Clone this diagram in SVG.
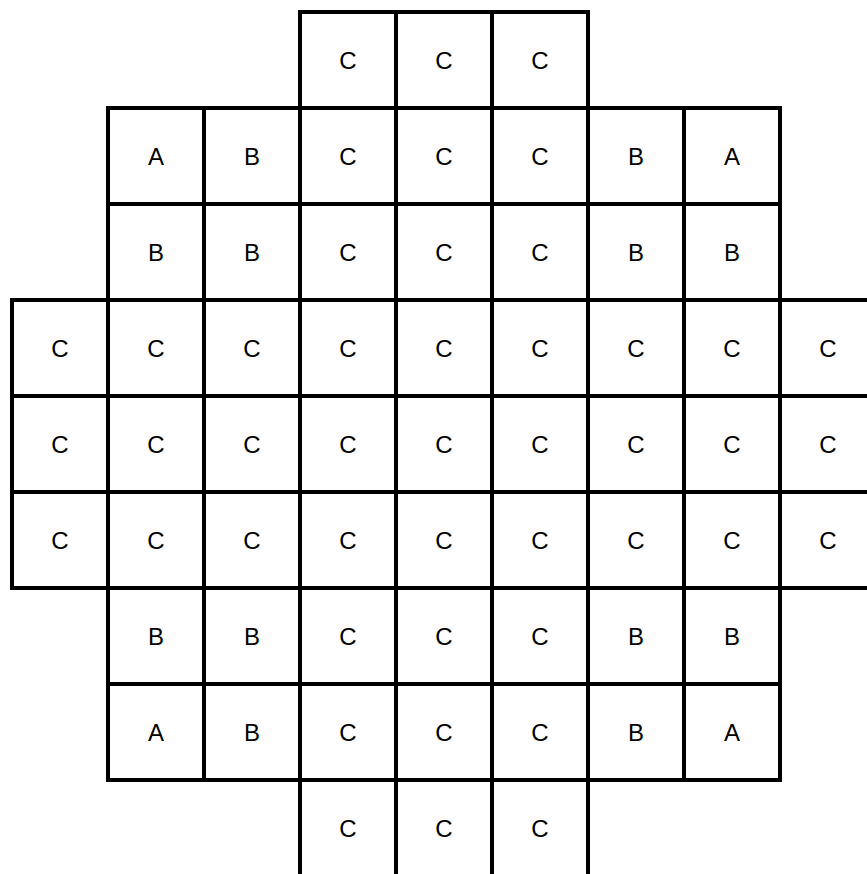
<svg xmlns="http://www.w3.org/2000/svg" width="867" height="874" viewBox="0 0 867 874">
<style>
.c rect{fill:#fff;stroke:#000;stroke-width:4}
.c text{font-family:"Liberation Sans",Arial,sans-serif;font-size:24px;text-anchor:middle;fill:#000}
</style>
<rect width="867" height="874" fill="#fff"/>
<g class="c">
<g id="r0c3"><rect x="300" y="12" width="96" height="96"/><text x="348" y="69">C</text></g>
<g id="r0c4"><rect x="396" y="12" width="96" height="96"/><text x="444" y="69">C</text></g>
<g id="r0c5"><rect x="492" y="12" width="96" height="96"/><text x="540" y="69">C</text></g>

<g id="r1c1"><rect x="108" y="108" width="96" height="96"/><text x="156" y="165">A</text></g>
<g id="r1c2"><rect x="204" y="108" width="96" height="96"/><text x="252" y="165">B</text></g>
<g id="r1c3"><rect x="300" y="108" width="96" height="96"/><text x="348" y="165">C</text></g>
<g id="r1c4"><rect x="396" y="108" width="96" height="96"/><text x="444" y="165">C</text></g>
<g id="r1c5"><rect x="492" y="108" width="96" height="96"/><text x="540" y="165">C</text></g>
<g id="r1c6"><rect x="588" y="108" width="96" height="96"/><text x="636" y="165">B</text></g>
<g id="r1c7"><rect x="684" y="108" width="96" height="96"/><text x="732" y="165">A</text></g>

<g id="r2c1"><rect x="108" y="204" width="96" height="96"/><text x="156" y="261">B</text></g>
<g id="r2c2"><rect x="204" y="204" width="96" height="96"/><text x="252" y="261">B</text></g>
<g id="r2c3"><rect x="300" y="204" width="96" height="96"/><text x="348" y="261">C</text></g>
<g id="r2c4"><rect x="396" y="204" width="96" height="96"/><text x="444" y="261">C</text></g>
<g id="r2c5"><rect x="492" y="204" width="96" height="96"/><text x="540" y="261">C</text></g>
<g id="r2c6"><rect x="588" y="204" width="96" height="96"/><text x="636" y="261">B</text></g>
<g id="r2c7"><rect x="684" y="204" width="96" height="96"/><text x="732" y="261">B</text></g>

<g id="r3c0"><rect x="12" y="300" width="96" height="96"/><text x="60" y="357">C</text></g>
<g id="r3c1"><rect x="108" y="300" width="96" height="96"/><text x="156" y="357">C</text></g>
<g id="r3c2"><rect x="204" y="300" width="96" height="96"/><text x="252" y="357">C</text></g>
<g id="r3c3"><rect x="300" y="300" width="96" height="96"/><text x="348" y="357">C</text></g>
<g id="r3c4"><rect x="396" y="300" width="96" height="96"/><text x="444" y="357">C</text></g>
<g id="r3c5"><rect x="492" y="300" width="96" height="96"/><text x="540" y="357">C</text></g>
<g id="r3c6"><rect x="588" y="300" width="96" height="96"/><text x="636" y="357">C</text></g>
<g id="r3c7"><rect x="684" y="300" width="96" height="96"/><text x="732" y="357">C</text></g>
<g id="r3c8"><rect x="780" y="300" width="96" height="96"/><text x="828" y="357">C</text></g>

<g id="r4c0"><rect x="12" y="396" width="96" height="96"/><text x="60" y="453">C</text></g>
<g id="r4c1"><rect x="108" y="396" width="96" height="96"/><text x="156" y="453">C</text></g>
<g id="r4c2"><rect x="204" y="396" width="96" height="96"/><text x="252" y="453">C</text></g>
<g id="r4c3"><rect x="300" y="396" width="96" height="96"/><text x="348" y="453">C</text></g>
<g id="r4c4"><rect x="396" y="396" width="96" height="96"/><text x="444" y="453">C</text></g>
<g id="r4c5"><rect x="492" y="396" width="96" height="96"/><text x="540" y="453">C</text></g>
<g id="r4c6"><rect x="588" y="396" width="96" height="96"/><text x="636" y="453">C</text></g>
<g id="r4c7"><rect x="684" y="396" width="96" height="96"/><text x="732" y="453">C</text></g>
<g id="r4c8"><rect x="780" y="396" width="96" height="96"/><text x="828" y="453">C</text></g>

<g id="r5c0"><rect x="12" y="492" width="96" height="96"/><text x="60" y="549">C</text></g>
<g id="r5c1"><rect x="108" y="492" width="96" height="96"/><text x="156" y="549">C</text></g>
<g id="r5c2"><rect x="204" y="492" width="96" height="96"/><text x="252" y="549">C</text></g>
<g id="r5c3"><rect x="300" y="492" width="96" height="96"/><text x="348" y="549">C</text></g>
<g id="r5c4"><rect x="396" y="492" width="96" height="96"/><text x="444" y="549">C</text></g>
<g id="r5c5"><rect x="492" y="492" width="96" height="96"/><text x="540" y="549">C</text></g>
<g id="r5c6"><rect x="588" y="492" width="96" height="96"/><text x="636" y="549">C</text></g>
<g id="r5c7"><rect x="684" y="492" width="96" height="96"/><text x="732" y="549">C</text></g>
<g id="r5c8"><rect x="780" y="492" width="96" height="96"/><text x="828" y="549">C</text></g>

<g id="r6c1"><rect x="108" y="588" width="96" height="96"/><text x="156" y="645">B</text></g>
<g id="r6c2"><rect x="204" y="588" width="96" height="96"/><text x="252" y="645">B</text></g>
<g id="r6c3"><rect x="300" y="588" width="96" height="96"/><text x="348" y="645">C</text></g>
<g id="r6c4"><rect x="396" y="588" width="96" height="96"/><text x="444" y="645">C</text></g>
<g id="r6c5"><rect x="492" y="588" width="96" height="96"/><text x="540" y="645">C</text></g>
<g id="r6c6"><rect x="588" y="588" width="96" height="96"/><text x="636" y="645">B</text></g>
<g id="r6c7"><rect x="684" y="588" width="96" height="96"/><text x="732" y="645">B</text></g>

<g id="r7c1"><rect x="108" y="684" width="96" height="96"/><text x="156" y="741">A</text></g>
<g id="r7c2"><rect x="204" y="684" width="96" height="96"/><text x="252" y="741">B</text></g>
<g id="r7c3"><rect x="300" y="684" width="96" height="96"/><text x="348" y="741">C</text></g>
<g id="r7c4"><rect x="396" y="684" width="96" height="96"/><text x="444" y="741">C</text></g>
<g id="r7c5"><rect x="492" y="684" width="96" height="96"/><text x="540" y="741">C</text></g>
<g id="r7c6"><rect x="588" y="684" width="96" height="96"/><text x="636" y="741">B</text></g>
<g id="r7c7"><rect x="684" y="684" width="96" height="96"/><text x="732" y="741">A</text></g>

<g id="r8c3"><rect x="300" y="780" width="96" height="96"/><text x="348" y="837">C</text></g>
<g id="r8c4"><rect x="396" y="780" width="96" height="96"/><text x="444" y="837">C</text></g>
<g id="r8c5"><rect x="492" y="780" width="96" height="96"/><text x="540" y="837">C</text></g>
</g>
<g id="connectors"/>
</svg>
